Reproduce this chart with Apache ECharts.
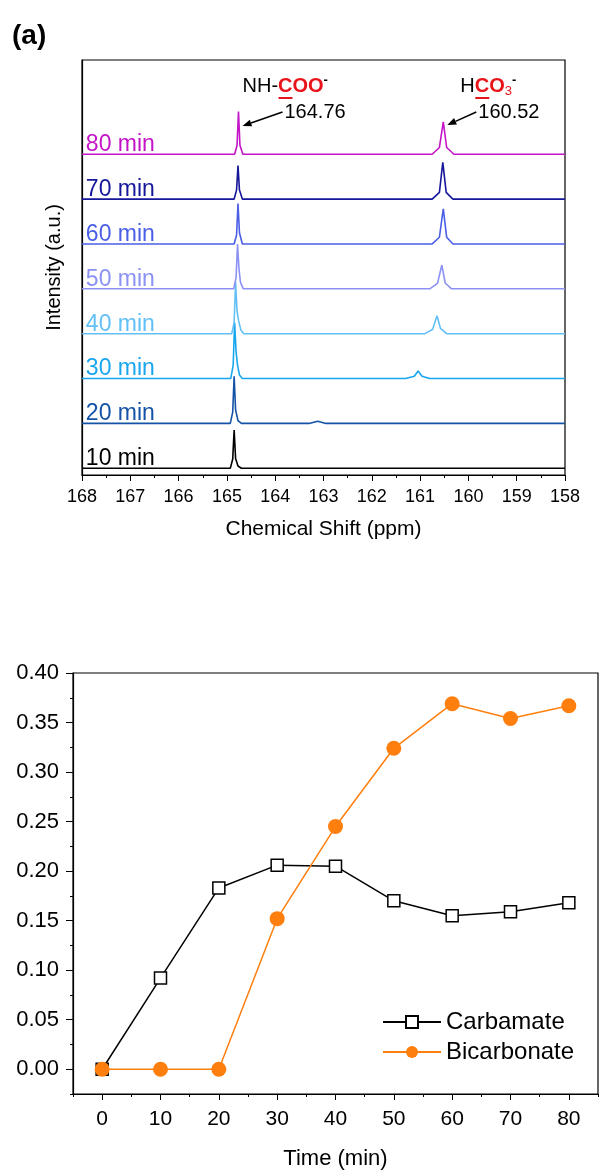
<!DOCTYPE html>
<html>
<head>
<meta charset="utf-8">
<script src="https://cdn.jsdelivr.net/npm/echarts@6/dist/echarts.min.js"></script>
<style>
  html, body { margin: 0; padding: 0; background: #fff; }
  #main { width: 611px; height: 1171px; }
</style>
</head>
<body>
<div id="main"></div>
<script>
// ---- panel (a): stacked 13C NMR spectra, [ppm, intensity above baseline] ----
var traceNames = ['10 min', '20 min', '30 min', '40 min', '50 min', '60 min', '70 min', '80 min'];
var trace10 = [[168,0],[164.93,0],[164.88,0.2],[164.85,0.85],[164.82,0.22],[164.77,0.05],[164.7,0],[158,0]];
var trace20 = [[168,0],[164.93,0],[164.88,0.25],[164.85,1.05],[164.82,0.3],[164.77,0.06],[164.7,0],[163.3,0],[163.12,0.05],[162.95,0],[158,0]];
var trace30 = [[168,0],[164.92,0],[164.87,0.3],[164.84,1.25],[164.81,0.6],[164.78,0.3],[164.74,0.08],[164.68,0],[161.3,0],[161.12,0.05],[161.04,0.17],[160.96,0.05],[160.8,0],[158,0]];
var trace40 = [[168,0],[164.9,0],[164.85,0.25],[164.82,1.15],[164.79,0.5],[164.76,0.3],[164.71,0.08],[164.65,0],[160.9,0],[160.74,0.1],[160.65,0.4],[160.58,0.12],[160.45,0],[158,0]];
var trace50 = [[168,0],[164.86,0],[164.81,0.25],[164.78,1.0],[164.75,0.45],[164.72,0.15],[164.66,0],[160.8,0],[160.64,0.12],[160.55,0.53],[160.48,0.13],[160.35,0],[158,0]];
var trace60 = [[168,0],[164.85,0],[164.8,0.2],[164.77,0.9],[164.74,0.25],[164.68,0],[160.75,0],[160.6,0.15],[160.52,0.78],[160.45,0.15],[160.32,0],[158,0]];
var trace70 = [[168,0],[164.85,0],[164.8,0.2],[164.77,0.75],[164.74,0.2],[164.68,0],[160.75,0],[160.6,0.15],[160.53,0.82],[160.46,0.15],[160.32,0],[158,0]];
var trace80 = [[168,0],[164.84,0],[164.79,0.2],[164.76,0.95],[164.73,0.2],[164.67,0],[160.75,0],[160.6,0.15],[160.52,0.72],[160.45,0.15],[160.3,0],[158,0]];
var traces = [trace10, trace20, trace30, trace40, trace50, trace60, trace70, trace80];

// ---- panel (b): species vs time ----
var times = [0, 10, 20, 30, 40, 50, 60, 70, 80];
var carbamate = [0.000, 0.092, 0.183, 0.206, 0.205, 0.170, 0.155, 0.159, 0.168];
var bicarbonate = [0.000, 0.000, 0.000, 0.152, 0.245, 0.324, 0.369, 0.354, 0.367];
var concTicks = [0, 0.05, 0.10, 0.15, 0.20, 0.25, 0.30, 0.35, 0.40];
var timeTicks = [0, 10, 20, 30, 40, 50, 60, 70, 80];

var traceColors = ['#000000', '#1452a6', '#1aa6ee', '#62c0f6', '#8b92f4', '#4a5fe6', '#16169a', '#c414c8'];
var FONT = '"Liberation Sans", Arial, sans-serif';

var chart = echarts.init(document.getElementById('main'));

var series = [];
traces.forEach(function (t, i) {
  series.push({
    type: 'line',
    xAxisIndex: 0,
    yAxisIndex: 0,
    showSymbol: false,
    silent: true,
    lineStyle: { color: traceColors[i], width: 1.6 },
    // stack each spectrum one unit above the previous one
    data: t.map(function (p) { return [p[0], p[1] + i]; })
  });
});

series.push({
  name: 'Carbamate',
  type: 'line',
  xAxisIndex: 1,
  yAxisIndex: 1,
  symbol: 'rect',
  symbolSize: 12,
  itemStyle: { color: '#fff', borderColor: '#000', borderWidth: 1.5 },
  lineStyle: { color: '#000', width: 1.5 },
  data: times.map(function (t, i) { return [t, carbamate[i]]; })
});
series.push({
  name: 'Bicarbonate',
  type: 'line',
  xAxisIndex: 1,
  yAxisIndex: 1,
  symbol: 'circle',
  symbolSize: 15,
  itemStyle: { color: '#ff7f0e' },
  lineStyle: { color: '#ff7f0e', width: 1.5 },
  data: times.map(function (t, i) { return [t, bicarbonate[i]]; })
});

var blackLine = { onZero: false, lineStyle: { color: '#000', width: 1.2 } };

var option = {
  animation: false,
  textStyle: { fontFamily: FONT, color: '#000' },
  grid: [
    { left: 82, right: 46, top: 60, height: 415, show: true, borderColor: '#000', borderWidth: 1.2 },
    { left: 73, right: 13, top: 673, height: 424, show: true, borderColor: '#000', borderWidth: 1.2 }
  ],
  legend: {
    data: ['Carbamate', 'Bicarbonate'],
    orient: 'vertical',
    left: 377,
    top: 1005,
    itemWidth: 58,
    itemHeight: 15,
    itemGap: 6,
    textStyle: { fontSize: 24, color: '#000', fontFamily: FONT }
  },
  xAxis: [
    {
      type: 'value', gridIndex: 0, inverse: true,
      min: 158, max: 168, interval: 1,
      name: 'Chemical Shift (ppm)', nameLocation: 'middle', nameGap: 44,
      nameTextStyle: { fontSize: 21, color: '#000' },
      axisLine: blackLine,
      axisTick: { length: 6, lineStyle: { color: '#000' } },
      minorTick: { show: true, splitNumber: 2, length: 3, lineStyle: { color: '#000' } },
      axisLabel: { fontSize: 18, color: '#000', margin: 13 },
      splitLine: { show: false }
    },
    {
      type: 'value', gridIndex: 1,
      min: -5, max: 85, interval: 5,
      name: 'Time (min)', nameLocation: 'middle', nameGap: 54,
      nameTextStyle: { fontSize: 22, color: '#000' },
      axisLine: blackLine,
      axisTick: { length: 3, lineStyle: { color: '#000' } },
      axisLabel: {
        fontSize: 21, color: '#000', margin: 15,
        formatter: function (v) { return (v >= 0 && v % 10 === 0) ? String(v) : ''; }
      },
      splitLine: { show: false }
    },
    {
      // longer major ticks at the labelled times
      type: 'value', gridIndex: 1, position: 'bottom',
      min: -5, max: 85,
      axisLine: { show: false, onZero: false },
      axisTick: { length: 6, customValues: timeTicks, lineStyle: { color: '#000' } },
      axisLabel: { show: false },
      splitLine: { show: false }
    }
  ],
  yAxis: [
    {
      type: 'value', gridIndex: 0,
      min: -0.15, max: 9.1,
      name: 'Intensity (a.u.)', nameLocation: 'middle', nameGap: 18,
      nameTextStyle: { fontSize: 20, color: '#000' },
      axisLine: blackLine,
      axisTick: { show: false },
      axisLabel: { show: false },
      splitLine: { show: false }
    },
    {
      type: 'value', gridIndex: 1,
      min: -0.025, max: 0.4, interval: 0.025,
      axisLine: blackLine,
      axisTick: { length: 3, lineStyle: { color: '#000' } },
      axisLabel: {
        fontSize: 22, color: '#000', margin: 14,
        formatter: function (v) {
          var k = v * 20;
          return (v > -0.001 && Math.abs(k - Math.round(k)) < 1e-6) ? v.toFixed(2) : '';
        }
      },
      splitLine: { show: false }
    },
    {
      // longer major ticks at the labelled values
      type: 'value', gridIndex: 1, position: 'left',
      min: -0.025, max: 0.4,
      axisLine: { show: false, onZero: false },
      axisTick: { length: 7, customValues: concTicks, lineStyle: { color: '#000' } },
      axisLabel: { show: false },
      splitLine: { show: false }
    }
  ],
  series: series
};
chart.setOption(option);

// labels and annotations placed through the axes
var g = [];
traces.forEach(function (t, i) {
  var p = chart.convertToPixel({ xAxisIndex: 0, yAxisIndex: 0 }, [167.92, i]);
  g.push({
    type: 'text', left: p[0], top: p[1] - 21,
    style: { text: traceNames[i], fill: traceColors[i], font: '23px ' + FONT }
  });
});

var carbPix = chart.convertToPixel({ xAxisIndex: 0, yAxisIndex: 0 }, [164.76, 7.95]);
var bicPix = chart.convertToPixel({ xAxisIndex: 0, yAxisIndex: 0 }, [160.52, 7.72]);

g.push({
  type: 'text', left: 12, top: 22,
  style: { text: '(a)', fill: '#000', font: 'bold 28px ' + FONT }
});
// NH-COO-
g.push({
  type: 'text', left: carbPix[0] + 4, top: 74,
  style: {
    text: '{n|NH-}{r|COO}{s|-}',
    font: '20px ' + FONT,
    rich: {
      n: { fill: '#000', fontSize: 20, lineHeight: 24, fontFamily: FONT },
      r: { fill: '#e8141a', fontSize: 20, fontWeight: 'bold', lineHeight: 24, fontFamily: FONT },
      s: { fill: '#000', fontSize: 13, fontWeight: 'bold', verticalAlign: 'top', lineHeight: 12, fontFamily: FONT }
    }
  }
});
g.push({
  type: 'line', shape: { x1: carbPix[0] + 40, y1: 98, x2: carbPix[0] + 54, y2: 98 },
  style: { stroke: '#e8141a', lineWidth: 2 }
});
g.push({
  type: 'text', left: carbPix[0] + 46, top: 102,
  style: { text: '164.76', fill: '#000', font: '20px ' + FONT }
});
// H CO3 -
g.push({
  type: 'text', left: bicPix[0] + 17, top: 74,
  style: {
    text: '{n|H}{r|CO}{b|3}{s|-}',
    font: '20px ' + FONT,
    rich: {
      n: { fill: '#000', fontSize: 20, lineHeight: 24, fontFamily: FONT },
      r: { fill: '#e8141a', fontSize: 20, fontWeight: 'bold', lineHeight: 24, fontFamily: FONT },
      b: { fill: '#e8141a', fontSize: 13, verticalAlign: 'bottom', lineHeight: 12, fontFamily: FONT },
      s: { fill: '#000', fontSize: 13, fontWeight: 'bold', verticalAlign: 'top', lineHeight: 12, fontFamily: FONT }
    }
  }
});
g.push({
  type: 'line', shape: { x1: bicPix[0] + 32, y1: 98, x2: bicPix[0] + 46, y2: 98 },
  style: { stroke: '#e8141a', lineWidth: 2 }
});
g.push({
  type: 'text', left: bicPix[0] + 35, top: 102,
  style: { text: '160.52', fill: '#000', font: '20px ' + FONT }
});

function arrow(x1, y1, x2, y2) {
  var ang = Math.atan2(y2 - y1, x2 - x1);
  var L = 9, W = 3.5;
  var bx = x2 - L * Math.cos(ang), by = y2 - L * Math.sin(ang);
  g.push({ type: 'line', shape: { x1: x1, y1: y1, x2: bx, y2: by }, style: { stroke: '#000', lineWidth: 1.5 } });
  g.push({
    type: 'polygon',
    shape: { points: [[x2, y2], [bx - W * Math.sin(ang), by + W * Math.cos(ang)], [bx + W * Math.sin(ang), by - W * Math.cos(ang)]] },
    style: { fill: '#000' }
  });
}
arrow(carbPix[0] + 44, 112, carbPix[0] + 4, 126);
arrow(bicPix[0] + 33, 112, bicPix[0] + 4, 125);

chart.setOption({ graphic: g });
</script>
</body>
</html>
